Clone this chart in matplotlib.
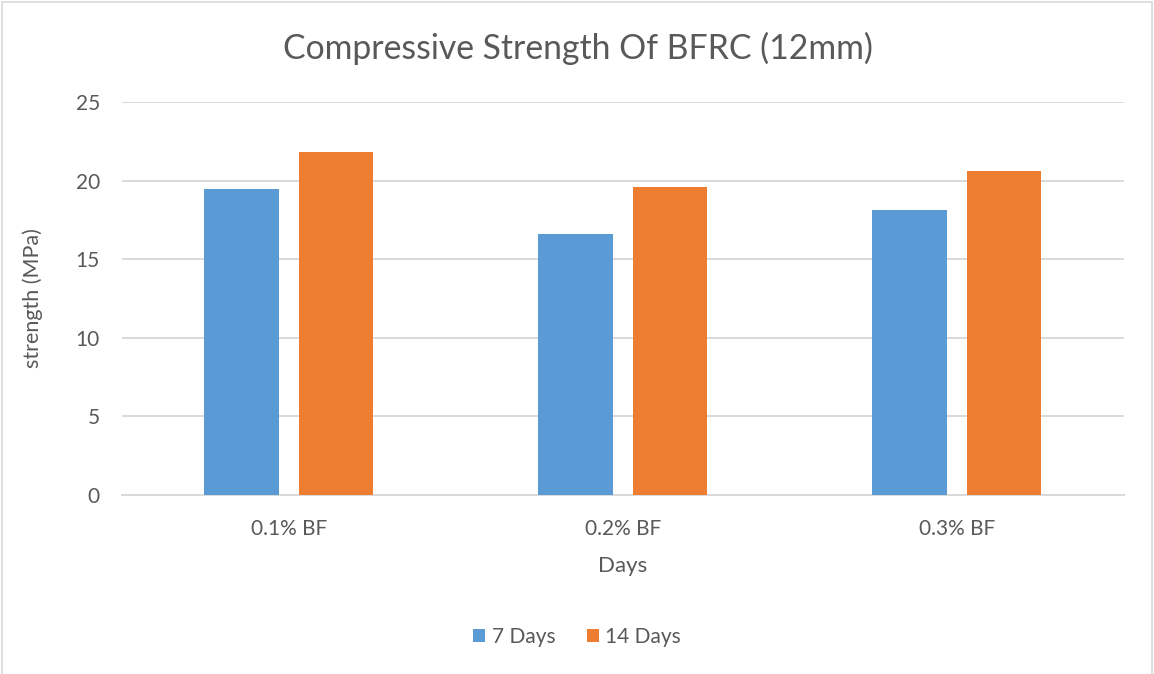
import numpy as np
import matplotlib.pyplot as plt
from matplotlib.patches import Rectangle

# compressive strength of BFRC, 12 mm fibres
categories = ['0.1% BF', '0.2% BF', '0.3% BF']
days_7 = [19.45, 16.6, 18.1]
days_14 = [21.8, 19.58, 20.6]
series_names = ['7 Days', '14 Days']
yticks = [0, 5, 10, 15, 20, 25]

blue = '#5B9BD5'
orange = '#ED7D31'
grey_text = '#595959'
grid_col = '#D9D9D9'

plt.rcParams['font.family'] = ['Lato', 'DejaVu Sans']

fig = plt.figure(figsize=(11.54, 6.74), dpi=100)
ax = fig.add_axes([0.1057, 0.2656, 0.8683, 0.5831])

x = np.arange(len(categories))
w = 0.222
off = 0.142
ax.bar(x - off, days_7, w, color=blue, label=series_names[0], zorder=3)
ax.bar(x + off, days_14, w, color=orange, label=series_names[1], zorder=3)

ax.set_xlim(-0.5, len(categories) - 0.5)
ax.set_ylim(0, 25)
ax.set_yticks(yticks)
ax.set_xticks(x)
ax.set_xticklabels(categories)
ax.tick_params(axis='both', length=0, labelsize=15, colors=grey_text)
ax.tick_params(axis='y', pad=16)
ax.tick_params(axis='x', pad=17)
ax.yaxis.grid(True, color=grid_col, linewidth=1.4, zorder=0)
for s in ['top', 'right', 'left']:
    ax.spines[s].set_visible(False)
ax.spines['bottom'].set_color(grid_col)
ax.spines['bottom'].set_linewidth(1.4)

# titles placed in figure pixels (674 px tall, 1154 px wide)
fig.text(578 / 1154, 1 - 48 / 674, 'Compressive Strength Of BFRC (12mm)', fontsize=24.3,
         color=grey_text, ha='center', va='center')
fig.text(623 / 1154, 1 - 566 / 674, 'Days', fontsize=16, color=grey_text,
         ha='center', va='center')
fig.text(33 / 1154, 1 - 298 / 674, 'strength (MPa)', fontsize=15.5, color=grey_text,
         ha='center', va='center', rotation=90)

fig.legend(loc='center', bbox_to_anchor=(0.5, 1 - 637 / 674), ncol=2, frameon=False,
           fontsize=15, labelcolor=grey_text, handlelength=0.6, handleheight=0.6,
           handletextpad=0.3, columnspacing=1.5)

# light chart-area border
fig.patches.append(Rectangle((0.002, -0.01), 0.996, 1.007, transform=fig.transFigure,
                             fill=False, edgecolor='#D9D9D9', linewidth=1.2))

fig.savefig('out.png', dpi=100)
